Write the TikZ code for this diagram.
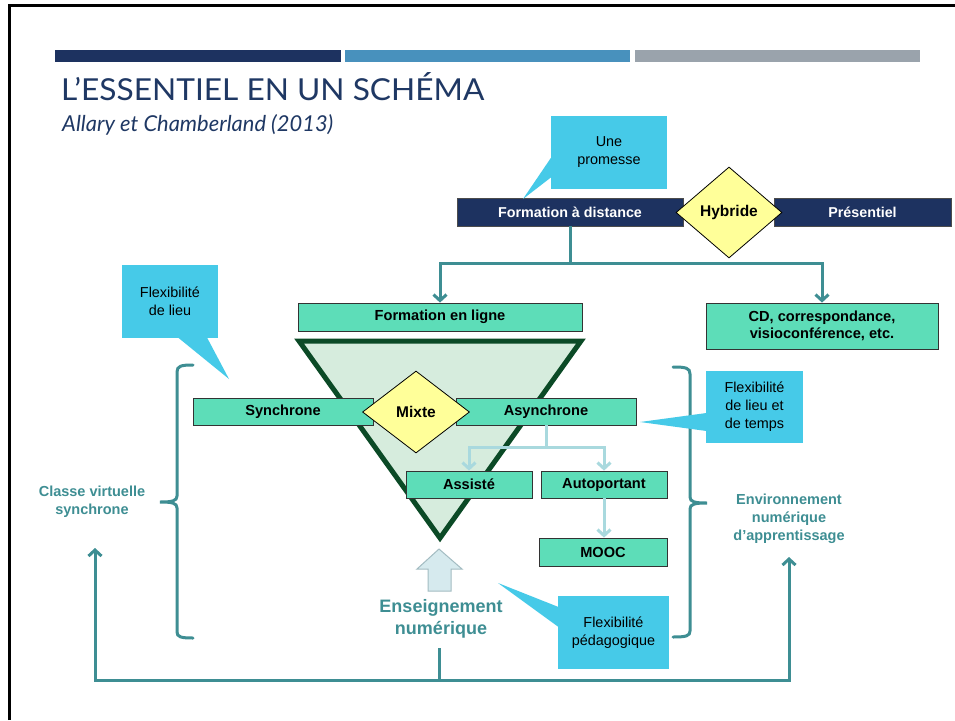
\documentclass[tikz,border=0pt]{standalone}
\usepackage{fontspec}
\setmainfont{Liberation Sans}
\newfontfamily\titlefont{Lato}
\usetikzlibrary{arrows.meta,shapes.geometric}
\definecolor{navy}{HTML}{1D3260}
\definecolor{barblue}{HTML}{4891BD}
\definecolor{bargray}{HTML}{9AA3AC}
\definecolor{titlecol}{HTML}{1F3864}
\definecolor{mint}{HTML}{5DDDB8}
\definecolor{tealc}{HTML}{3E8E93}
\definecolor{lblue}{HTML}{A9D9DE}
\definecolor{callc}{HTML}{46CAE8}
\definecolor{trifill}{HTML}{D6ECDD}
\definecolor{tridraw}{HTML}{0B4A26}
\definecolor{diamfill}{HTML}{FFFF99}
\definecolor{blkfill}{HTML}{D6EAEE}
\definecolor{blkdraw}{HTML}{A3BCC2}
\tikzset{
  box/.style={draw=black!80, line width=0.8pt, fill=mint, inner sep=0pt, align=center,
    font=\fontsize{14.6}{17.5}\selectfont\bfseries},
  navybox/.style={draw=black!70, line width=0.8pt, fill=navy, text=white, inner sep=0pt,
    font=\fontsize{14.3}{17}\selectfont\bfseries},
  diam/.style={diamond, draw=black, line width=0.8pt, fill=diamfill, inner sep=0pt,
    font=\fontsize{15.5}{18}\selectfont\bfseries},
  callout/.style={fill=callc, inner sep=0pt, align=center,
    font=\fontsize{14.4}{18}\selectfont},
  tealline/.style={draw=tealc, line width=3pt},
  tealarrow/.style={tealline, -{Straight Barb[length=6pt,width=13pt]}},
  lbarrow/.style={draw=lblue, line width=3pt, -{Straight Barb[length=6pt,width=13pt]}},
  tealtext/.style={text=tealc, align=center, font=\fontsize{14.5}{18}\selectfont\bfseries},
}
\begin{document}
\begin{tikzpicture}[x=1pt,y=-1pt]
\useasboundingbox (0,0) rectangle (955,720);
\fill[white] (0,0) rectangle (955,720);
% frame
\draw[line width=3pt] (9.5,720) -- (9.5,5.5) -- (955,5.5);
% header bars
\fill[navy] (55,50) rectangle (341,62);
\fill[barblue] (345,50) rectangle (630,62);
\fill[bargray] (635,50) rectangle (920,62);
% title
\node[anchor=base west, inner sep=0pt, text=titlecol] (title) at (61,100)
  {\resizebox{423pt}{28pt}{\titlefont L’ESSENTIEL EN UN SCHÉMA}};
\node[anchor=base west, inner sep=0pt, text=titlecol] (subtitle) at (62,131)
  {\resizebox{271pt}{!}{\titlefont\itshape Allary et Chamberland (2013)}};

% triangle
\draw[line width=5pt, draw=tridraw, fill=trifill, line join=miter] (299,341) -- (581,341) -- (440,538) -- cycle;

% top row
\node[navybox, minimum width=226pt, minimum height=28pt] (fad) at (570,212) {Formation à distance};
\node[navybox, minimum width=177pt, minimum height=28pt] (pres) at (862.5,212) {Présentiel};
\node[diam, minimum width=106pt, minimum height=91pt] (hyb) at (729,212.5) {Hybride};

% second row
\node[box, minimum width=284pt, minimum height=28pt] (fel) at (440,317) {Formation en ligne};
\node[box, minimum width=232pt, minimum height=46pt] (cd) at (822,326) {CD, correspondance,\\visioconférence, etc.};

% sync row
\node[box, minimum width=180pt, minimum height=27pt] (sync) at (283,411.5) {Synchrone};
\node[box, minimum width=180pt, minimum height=27pt] (async) at (546,411.5) {Asynchrone};
\node[diam, minimum width=107pt, minimum height=82pt] (mixte) at (416,412) {Mixte};

\node[box, minimum width=126pt, minimum height=27pt] (assiste) at (469,484.5) {Assisté};
\node[box, minimum width=126pt, minimum height=27pt] (auto) at (604,484.5) {Autoportant};
\node[box, minimum width=128pt, minimum height=28pt] (mooc) at (603,552) {MOOC};

% teal connectors top
\coordinate (j1) at (570,263);
\draw[tealline] (fad.south) -- (j1);
\draw[tealarrow] (j1) -| (fel.north);
\draw[tealarrow] (j1) -| (cd.north);

% light blue connectors
\coordinate (j2) at (546,447);
\draw[draw=lblue, line width=3pt] (async.south) -- (j2);
\draw[lbarrow] (j2) -| (assiste.north);
\draw[lbarrow] (j2) -| (auto.north);
\draw[lbarrow] (auto.south) -- (auto.south |- mooc.north);

% block arrow
\draw[draw=blkdraw, fill=blkfill, line width=1pt] (439,549) -- (462,569) -- (451,569) -- (451,591) -- (428,591) -- (428,569) -- (417,569) -- cycle;

% texts
\node[text=tealc, align=center, font=\fontsize{18}{22}\selectfont\bfseries] (ens) at (441,619) {Enseignement\\numérique};
\node[tealtext] (cvs) at (92,502) {Classe virtuelle\\synchrone};
\node[tealtext] (ena) at (789,518.5) {Environnement\\numérique\\d’apprentissage};

% bottom connectors
\coordinate (b0) at (439,648);
\coordinate (b1) at (439,680);
\coordinate (cvstip) at (95,548);
\coordinate (enatip) at (789,557);
\draw[tealline] (b0) -- (b1);
\draw[tealarrow] (b1) -| (cvstip);
\draw[tealarrow] (b1) -| (enatip);

% braces
\draw[tealline, line cap=round] (193,365) .. controls (181,365) and (177,366) .. (177,372) -- (177,496) .. controls (177,501) and (172,502) .. (160,502)
  .. controls (172,502) and (177,503) .. (177,508) -- (177,632) .. controls (177,637) and (181,638) .. (193,638);
\draw[tealline, line cap=round] (673,367) .. controls (686,367) and (690,368) .. (690,374) -- (690,497) .. controls (690,502) and (695,503) .. (707,503)
  .. controls (695,503) and (690,504) .. (690,509) -- (690,631) .. controls (690,636) and (686,637) .. (673,637);

% callouts
\node[callout, minimum width=116pt, minimum height=73pt] (prom) at (609,152) {Une\\promesse};
\fill[callc] (551.5,157) -- (523,199) -- (551.5,177) -- cycle;
\node[callout, minimum width=96pt, minimum height=73pt] (flieu) at (170,301.5) {Flexibilité\\de lieu};
\fill[callc] (178,337.5) -- (229,379) -- (207,337.5) -- cycle;
\node[callout, minimum width=97pt, minimum height=72pt] (flt) at (754.5,407) {Flexibilité\\de lieu et\\de temps};
\fill[callc] (706.5,413) -- (640,422) -- (706.5,431) -- cycle;
\node[callout, minimum width=111pt, minimum height=73pt] (fped) at (613.5,632.5) {Flexibilité\\pédagogique};
\fill[callc] (558.5,607) -- (498,583) -- (558.5,627) -- cycle;
\end{tikzpicture}
\end{document}
